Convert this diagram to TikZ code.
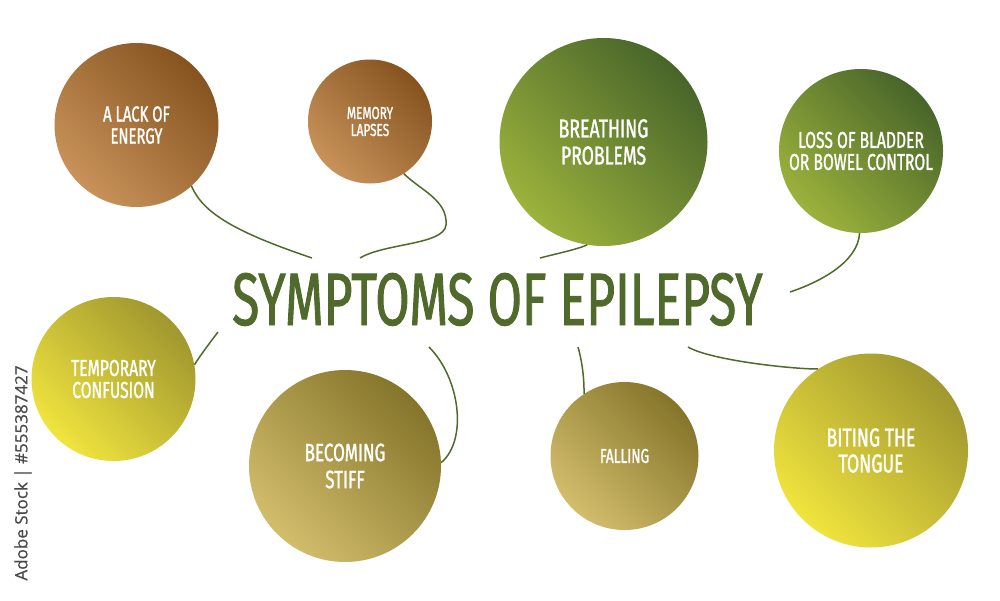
\documentclass[tikz,border=0pt]{standalone}
\usepackage{fontspec}
\setmainfont{Fira Sans}
\newfontfamily\cond[FakeStretch=0.68, FakeBold=1.2]{Fira Sans}
\newfontfamily\wmfont[FakeBold=0.6]{Open Sans}
\usepackage{graphicx}
\definecolor{brownD}{HTML}{86531F}
\definecolor{brownL}{HTML}{C8925A}
\definecolor{greenD}{HTML}{48652A}
\definecolor{greenL}{HTML}{9CB23C}
\definecolor{oliveD}{HTML}{A0972F}
\definecolor{oliveL}{HTML}{F0E43E}
\definecolor{khakiD}{HTML}{85752A}
\definecolor{khakiL}{HTML}{D2BD6C}
\definecolor{titlegreen}{HTML}{4F6A2A}
\definecolor{wmgray}{HTML}{4A4A4A}
\tikzset{
  bubble/.style={circle, inner sep=0pt, text=white, align=center},
  brownbubble/.style={bubble, top color=brownD, bottom color=brownL, shading angle=-45},
  greenbubble/.style={bubble, top color=greenD, bottom color=greenL, shading angle=-45},
  olivebubble/.style={bubble, top color=oliveD, bottom color=oliveL, shading angle=-45},
  khakibubble/.style={bubble, top color=khakiD, bottom color=khakiL, shading angle=-45},
  link/.style={draw=titlegreen, line width=1.5pt},
}
\begin{document}
\begin{tikzpicture}[x=1pt,y=-1pt]
\useasboundingbox (0,0) rectangle (1000,600);
\fill[white] (0,0) rectangle (1000,600);

% circles
\node[brownbubble, minimum size=164pt, font=\cond\fontsize{21.8}{22}\selectfont] (energy) at (136.5,125) {A LACK OF\\ENERGY};
\node[brownbubble, minimum size=124pt, font=\cond\fontsize{17.4}{17}\selectfont] (memory) at (370,121.5) {MEMORY\\LAPSES};
\node[greenbubble, minimum size=208pt, font=\cond\fontsize{26}{27}\selectfont] (breath) at (603.5,142) {BREATHING\\PROBLEMS};
\node[greenbubble, minimum size=164pt, font=\cond\fontsize{23}{22}\selectfont] (bladder) at (861,151) {LOSS OF BLADDER\\OR BOWEL CONTROL};
\node[olivebubble, minimum size=164pt, font=\cond\fontsize{23}{22}\selectfont] (confusion) at (113.5,379) {TEMPORARY\\CONFUSION};
\node[khakibubble, minimum size=192pt, font=\cond\fontsize{25}{27}\selectfont] (stiff) at (345,466) {BECOMING\\STIFF};
\node[khakibubble, minimum size=148pt, font=\cond\fontsize{20}{20}\selectfont] (falling) at (624.5,456) {FALLING};
\node[olivebubble, minimum size=194pt, font=\cond\fontsize{26}{26}\selectfont] (tongue) at (871,450.5) {BITING THE\\TONGUE};

% title
\node[anchor=base west, inner sep=0pt, text=titlegreen] (title) at (232,325)
  {\resizebox{530pt}{52pt}{\cond SYMPTOMS OF EPILEPSY}};

% free ends near the title
\coordinate (e1) at (312,258);
\coordinate (e2) at (360,258);
\coordinate (e3) at (540,258);
\coordinate (e4) at (790,292);
\coordinate (e5) at (218,332);
\coordinate (e6) at (429,347);
\coordinate (e7) at (578,347);
\coordinate (e8) at (688,347);

% connectors
\draw[link] (energy.-48) .. controls (203,213) and (235,232) .. (e1);
\draw[link] (memory.-57) .. controls (420,190) and (448,200) .. (446,225)
                         .. controls (444,245) and (385,243) .. (e2);
\draw[link] (breath.261) .. controls (575,250) and (555,254) .. (e3);
\draw[link] (bladder.-91) .. controls (858,262) and (820,282) .. (e4);
\draw[link] (e5) .. controls (208,345) and (200,356) .. (confusion.10);
\draw[link] (e6) .. controls (460,378) and (468,440) .. (stiff.2);
\draw[link] (e7) .. controls (583,365) and (584,380) .. (falling.123);
\draw[link] (e8) .. controls (710,360) and (790,369) .. (tongue.123);

% vertical stock label
\node[rotate=90, text=wmgray, font=\wmfont\fontsize{17}{17}\selectfont, inner sep=0pt] (wm) at (23,473) {Adobe Stock | \#555387427};
\end{tikzpicture}
\end{document}
